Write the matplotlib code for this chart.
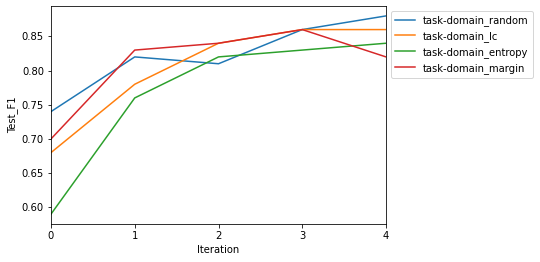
import matplotlib
matplotlib.use("Agg")
import matplotlib.pyplot as plt

iterations = [0, 1, 2, 3, 4]
random_f1 = [0.74, 0.82, 0.81, 0.86, 0.88]
lc_f1 = [0.68, 0.78, 0.84, 0.86, 0.86]
entropy_f1 = [0.59, 0.76, 0.82, 0.83, 0.84]
margin_f1 = [0.70, 0.83, 0.84, 0.86, 0.82]
labels = ["task-domain_random", "task-domain_lc", "task-domain_entropy", "task-domain_margin"]

fig = plt.figure(figsize=(540/72, 262/72), dpi=72)
ax = fig.add_axes([51/540, 38/262, 335/540, 218/262])
for vals, lab in zip([random_f1, lc_f1, entropy_f1, margin_f1], labels):
    ax.plot(iterations, vals, label=lab)
ax.set_xlim(0, 4)
ax.set_xticks(iterations)
ax.set_xlabel("Iteration")
ax.set_ylabel("Test_F1")
ax.legend(loc="upper left", bbox_to_anchor=(1, 1))
fig.savefig("out.png", dpi=72)
